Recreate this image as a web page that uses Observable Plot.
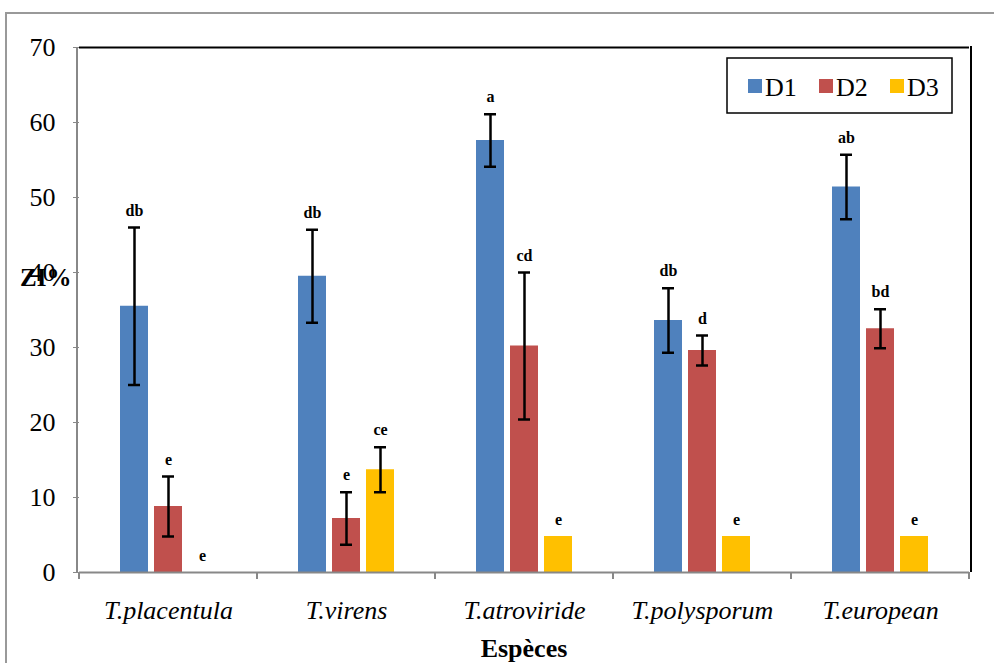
<!DOCTYPE html>
<html><head><meta charset="utf-8">
<script src="https://cdn.jsdelivr.net/npm/d3@7"></script>
<script src="https://cdn.jsdelivr.net/npm/@observablehq/plot@0.6"></script>
<style>
body{margin:0;background:#fff;}
#wrap{position:relative;width:994px;height:663px;overflow:hidden;font-family:"Liberation Serif","Tinos","Times New Roman","DejaVu Serif",serif;}
#border{position:absolute;left:5px;top:12px;width:1100px;height:800px;border:2px solid #999;box-sizing:border-box;}
#chart{position:absolute;left:0;top:0;}
#chart svg, #chart svg text{font-family:"Liberation Serif","Tinos","Times New Roman","DejaVu Serif",serif !important;}
g[aria-label="fx-axis tick label"] text{font-style:italic;}
</style></head><body><div id="wrap"><div id="border"></div><div id="chart"></div></div>
<script>
const species = ["T.placentula","T.virens","T.atroviride","T.polysporum","T.european"];
const series = ["D1","D2","D3"];
const d1Values = [35.5, 39.5, 57.6, 33.6, 51.4];
const d1Errors = [10.5, 6.2, 3.5, 4.3, 4.3];
const d1Letters = ["db","db","a","db","ab"];
const d2Values = [8.8, 7.2, 30.2, 29.6, 32.5];
const d2Errors = [4.0, 3.5, 9.8, 2.0, 2.6];
const d2Letters = ["e","e","cd","d","bd"];
const d3Values = [0, 13.7, 4.8, 4.8, 4.8];
const d3Errors = [0, 3.0, 0, 0, 0];
const d3Letters = ["e","ce","e","e","e"];
const colors = ["#4F81BD","#C0504D","#FFC000"];
const yTicks = [0,10,20,30,40,50,60,70];
const yLabel = "ZI%";
const xLabel = "Espèces";

const vals = [d1Values, d2Values, d3Values];
const errs = [d1Errors, d2Errors, d3Errors];
const lets = [d1Letters, d2Letters, d3Letters];
const rows = [];
species.forEach((sp, i) => series.forEach((s, j) => rows.push({
  species: sp, series: s, value: vals[j][i], err: errs[j][i], letter: lets[j][i]
})));
const errRows = rows.filter(d => d.err > 0);

const font = '"Liberation Serif", "Tinos", "Times New Roman", "DejaVu Serif", serif';
const W = 994, H = 663, mL = 77, mR = 23, mT = 47, mB = 91;

const plot = Plot.plot({
  width: W, height: H,
  marginLeft: mL, marginRight: mR, marginTop: mT, marginBottom: mB,
  style: {fontFamily: font, background: "transparent", overflow: "visible", color: "black"},
  fx: {domain: species, padding: 0, label: null},
  x: {domain: series, paddingInner: 0.17, paddingOuter: 1.14, axis: null},
  y: {domain: [0, 70], ticks: yTicks},
  color: {domain: series, range: colors},
  marks: [
    Plot.axisY({ticks: yTicks, tickSize: 6, tickPadding: 18, fontSize: 26, label: null, stroke: "#888", fill: "black"}),
    Plot.axisFx({anchor: "bottom", tickSize: 0, tickPadding: 28, fontSize: 26, fontStyle: "italic", label: null, fill: "black"}),
    Plot.barY(rows, {fx: "species", x: "series", y: "value", fill: "series"}),
    Plot.ruleY([0], {stroke: "#888", strokeWidth: 2}),
    Plot.ruleY([70], {stroke: "black", strokeWidth: 2}),
    Plot.ruleX(errRows, {fx: "species", x: "series", y1: d => d.value - d.err, y2: d => d.value + d.err, stroke: "black", strokeWidth: 2.5}),
    Plot.tickY(errRows, {fx: "species", x: "series", y: d => d.value - d.err, stroke: "black", strokeWidth: 2.5, insetLeft: 8, insetRight: 8}),
    Plot.tickY(errRows, {fx: "species", x: "series", y: d => d.value + d.err, stroke: "black", strokeWidth: 2.5, insetLeft: 8, insetRight: 8}),
    Plot.text(rows, {fx: "species", x: "series", y: d => d.value + d.err, text: "letter", dy: -17, fontWeight: "bold", fontSize: 16, fill: "black"})
  ]
});
document.getElementById("chart").appendChild(plot);

const svg = d3.select(plot);
const fx = plot.scale("fx");
const y = plot.scale("y");
const x0 = fx.apply(species[0]);
const step = fx.step;
const yTop = y.apply(70), yBot = y.apply(0);
svg.append("line").attr("x1", mL).attr("x2", mL).attr("y1", yTop).attr("y2", yBot).attr("stroke", "#888").attr("stroke-width", 2);
svg.append("line").attr("x1", W - mR).attr("x2", W - mR).attr("y1", yTop - 1).attr("y2", yBot).attr("stroke", "black").attr("stroke-width", 2);
for (let i = 0; i <= species.length; i++) {
  const xx = x0 + i * step;
  svg.append("line").attr("x1", xx).attr("x2", xx).attr("y1", yBot).attr("y2", yBot + 7).attr("stroke", "#888").attr("stroke-width", 2);
}
svg.append("text").attr("x", 20).attr("y", 286).attr("text-anchor", "start").attr("font-family", font).attr("font-size", 25).attr("font-weight", "bold").attr("fill", "black").text(yLabel);
svg.append("text").attr("x", (mL + W - mR) / 2).attr("y", 657).attr("text-anchor", "middle").attr("font-family", font).attr("font-size", 26).attr("font-weight", "bold").attr("fill", "black").text(xLabel);
const lg = svg.append("g");
lg.append("rect").attr("x", 727).attr("y", 58).attr("width", 225).attr("height", 55).attr("fill", "white").attr("stroke", "black").attr("stroke-width", 1.5);
series.forEach((s, i) => {
  const lx = 748 + i * 71;
  lg.append("rect").attr("x", lx).attr("y", 79).attr("width", 14).attr("height", 14).attr("fill", plot.scale("color").apply(s));
  lg.append("text").attr("x", lx + 17).attr("y", 96).attr("text-anchor", "start").attr("font-family", font).attr("font-size", 26).attr("fill", "black").text(s);
});
</script></body></html>
